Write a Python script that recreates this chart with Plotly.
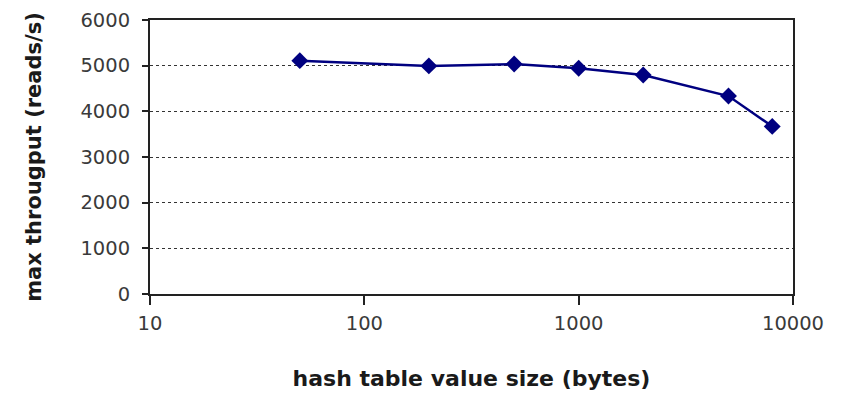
import plotly.graph_objects as go

# Measured read throughput vs. hash table value size
value_size = [50, 200, 500, 1000, 2000, 5000, 8000]
throughput = [5110, 4995, 5035, 4945, 4795, 4335, 3670]

x_ticks = [10, 100, 1000, 10000]
y_ticks = [0, 1000, 2000, 3000, 4000, 5000, 6000]

font_family = "DejaVu Sans, Verdana, sans-serif"

fig = go.Figure()
fig.add_trace(go.Scatter(
    x=value_size, y=throughput,
    mode="lines+markers",
    line=dict(color="#000080", width=2.5),
    marker=dict(symbol="diamond", size=13, color="#000080"),
    showlegend=False,
))

fig.update_layout(
    width=842, height=396,
    margin=dict(l=150, r=49, t=20, b=102),
    plot_bgcolor="white", paper_bgcolor="white",
    font=dict(family=font_family, color="#333333"),
)

fig.update_xaxes(
    type="log", range=[1, 4], automargin=False,
    tickvals=x_ticks, ticktext=[str(v) for v in x_ticks],
    ticks="outside", ticklen=9, tickwidth=1.5, tickcolor="#222",
    showline=True, linecolor="#222", linewidth=2, mirror=True,
    showgrid=False, zeroline=False,
    tickfont=dict(size=19.5, color="#3a3a3a"),
    ticklabelstandoff=2,
    title=dict(text="<b>hash table value size (bytes)</b>",
               font=dict(size=22, color="#1a1a1a"), standoff=36),
)

fig.update_yaxes(
    range=[0, 6000], automargin=False,
    tickvals=y_ticks,
    ticks="outside", ticklen=6, tickwidth=1.5, tickcolor="#222",
    showline=True, linecolor="#222", linewidth=2, mirror=True,
    showgrid=True, gridcolor="#333333", gridwidth=1, griddash="3px,3px",
    zeroline=False,
    tickfont=dict(size=19.5, color="#3a3a3a"),
    ticklabelstandoff=8,
    title=dict(text="<b>max througput (reads/s)</b>",
               font=dict(size=21, color="#1a1a1a"), standoff=33),
)

fig.write_html("out.html")
